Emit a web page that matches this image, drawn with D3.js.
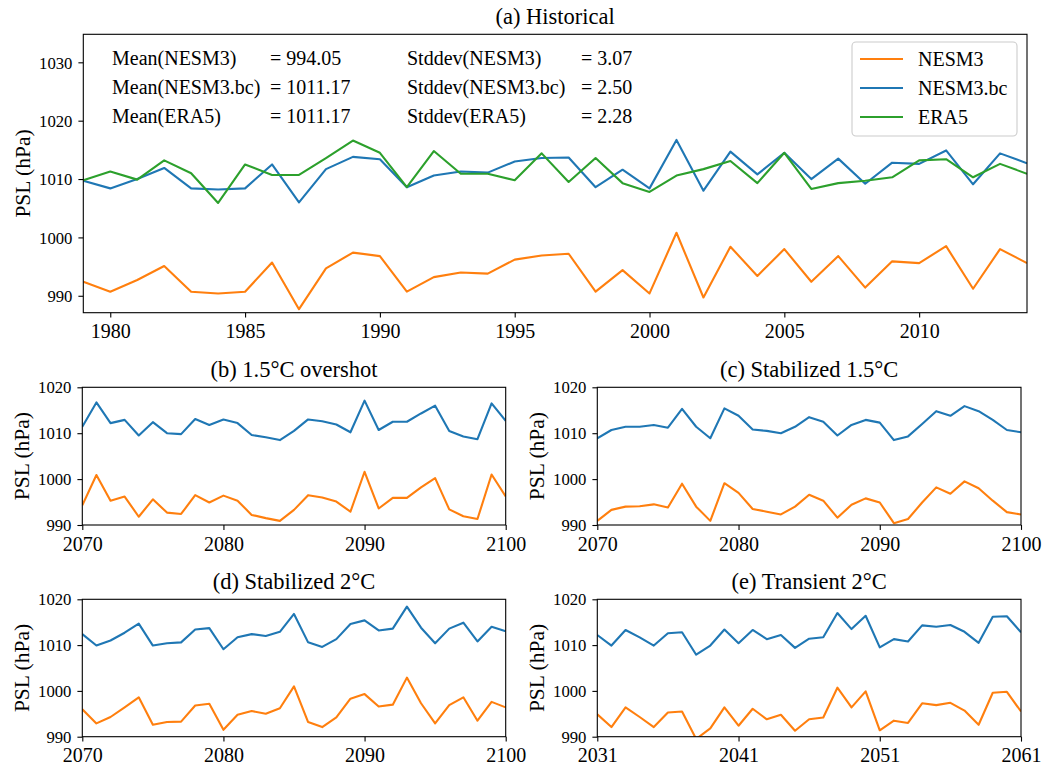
<!DOCTYPE html>
<html><head><meta charset="utf-8">
<script src="https://cdn.jsdelivr.net/npm/d3@7"></script>
<style>
body{margin:0;background:#fff}
svg{display:block}
svg text{font-family:"Liberation Serif","DejaVu Serif","Times New Roman",serif !important;fill:#000}
</style>
</head><body>
<svg id="chart" width="1059" height="767" font-family="Liberation Serif, DejaVu Serif, serif"></svg>
<script>
// ---------------- DATA ----------------
const histStart = 1979, histEnd = 2014;
const histNESM3 = [992.4,990.7,992.7,995.1,990.7,990.4,990.7,995.7,987.7,994.7,997.4,996.8,
  990.7,993.2,994.0,993.8,996.2,996.9,997.2,990.7,994.4,990.4,1000.8,989.7,
  998.4,993.4,998.0,992.4,996.8,991.4,995.9,995.6,998.5,991.2,998.0,995.6];
const histNESM3bc = [1009.7,1008.4,1010.0,1011.9,1008.4,1008.2,1008.4,1012.5,1006.0,1011.7,1013.8,1013.4,
  1008.6,1010.6,1011.3,1011.1,1013.0,1013.6,1013.7,1008.6,1011.6,1008.4,1016.7,1008.0,
  1014.7,1010.8,1014.5,1010.0,1013.5,1009.2,1012.8,1012.6,1014.9,1009.1,1014.4,1012.7];
const histERA5 = [1009.8,1011.3,1009.9,1013.2,1011.0,1005.9,1012.5,1010.7,1010.7,1013.6,1016.6,1014.5,
  1008.6,1014.8,1010.9,1010.9,1009.8,1014.4,1009.5,1013.6,1009.3,1007.8,1010.6,1011.7,
  1013.1,1009.3,1014.5,1008.3,1009.3,1009.7,1010.3,1013.2,1013.4,1010.3,1012.6,1010.9];
const histTicksX = [1980,1985,1990,1995,2000,2005,2010];
const histTicksY = [990,1000,1010,1020,1030];

// (b) 1.5°C overshot, 2070-2100
const overNESM3 = [994.3,1000.9,995.3,996.2,991.8,995.6,992.7,992.4,996.5,994.9,996.4,995.3,992.2,991.5,990.9,993.3,
  996.5,996.0,995.1,992.9,1001.6,993.6,995.9,995.9,998.2,1000.2,993.4,991.9,991.3,1001.0,996.2];
const overNESM3bc = [1011.4,1016.7,1012.2,1012.9,1009.5,1012.4,1010.0,1009.8,1013.1,1011.8,1013.0,1012.2,1009.6,1009.1,1008.5,1010.5,
  1013.0,1012.6,1011.9,1010.2,1017.1,1010.7,1012.5,1012.5,1014.3,1016.0,1010.5,1009.3,1008.7,1016.5,1012.7];
// (c) Stabilized 1.5°C, 2070-2100
const stab15NESM3 = [990.9,993.3,994.0,994.1,994.5,993.8,999.0,994.0,990.9,999.1,997.0,993.5,992.9,992.3,994.0,996.6,
  995.3,991.6,994.4,995.8,994.9,990.4,991.3,994.9,998.2,996.8,999.5,998.0,995.3,992.8,992.3];
const stab15NESM3bc = [1008.9,1010.7,1011.4,1011.4,1011.8,1011.2,1015.3,1011.4,1008.9,1015.4,1013.8,1010.8,1010.5,1010.0,1011.4,1013.5,
  1012.5,1009.5,1011.8,1012.9,1012.3,1008.5,1009.3,1012.0,1014.8,1013.8,1015.9,1014.8,1012.9,1010.7,1010.2];
// (d) Stabilized 2°C, 2070-2100
const stab2NESM3 = [996.0,992.9,994.3,996.4,998.6,992.6,993.2,993.3,996.8,997.2,991.5,994.8,995.6,995.0,996.2,1001.0,
  993.2,992.1,994.2,998.3,999.3,996.6,997.0,1002.9,997.3,992.9,996.9,998.6,993.5,997.6,996.4];
const stab2NESM3bc = [1012.4,1009.9,1011.0,1012.7,1014.7,1009.9,1010.4,1010.6,1013.4,1013.7,1009.1,1011.7,1012.4,1012.0,1012.9,1016.8,
  1010.6,1009.6,1011.3,1014.6,1015.4,1013.2,1013.6,1018.4,1013.8,1010.4,1013.6,1014.9,1010.8,1014.0,1013.0];
// (e) Transient 2°C, 2031-2061
const transNESM3 = [994.9,992.1,996.4,994.3,992.1,995.3,995.5,989.5,991.8,996.4,992.4,996.1,993.8,994.8,991.3,993.8,
  994.2,1000.7,996.4,999.9,991.4,993.5,993.0,997.3,996.9,997.4,995.7,992.6,999.6,999.8,995.5];
const transNESM3bc = [1012.2,1009.9,1013.3,1011.7,1009.9,1012.6,1012.8,1007.9,1009.9,1013.4,1010.4,1013.3,1011.3,1012.2,1009.4,1011.4,
  1011.7,1017.0,1013.5,1016.4,1009.5,1011.3,1010.8,1014.3,1014.0,1014.4,1012.9,1010.5,1016.2,1016.3,1012.8];

const futTicksY = [990,1000,1010,1020];
const ticks2070 = [2070,2080,2090,2100];
const ticks2031 = [2031,2041,2051,2061];

const seriesNames = ["NESM3","NESM3.bc","ERA5"];
const seriesColors = ["#ff7f0e","#1f77b4","#2ca02c"];
const statLabels = ["Mean(NESM3)","Mean(NESM3.bc)","Mean(ERA5)"];
const statValues = ["= 994.05","= 1011.17","= 1011.17"];
const sdLabels = ["Stddev(NESM3)","Stddev(NESM3.bc)","Stddev(ERA5)"];
const sdValues = ["= 3.07","= 2.50","= 2.28"];

// ---------------- LAYOUT ----------------
const FONT = '"Liberation Serif","DejaVu Serif",serif';
const FS = 20, FSY = 16.7, FST = 22.5, FSL = 21.5;
const svg = d3.select("#chart");
let clipId = 0;

function txt(sel) { return sel.style("font-family", FONT).attr("fill", "#000"); }

function panel(box, title, xDomain, xTicks, yDomain, yTicks, series) {
  const x = d3.scaleLinear().domain(xDomain).range([box.l, box.r]);
  const y = d3.scaleLinear().domain(yDomain).range([box.b, box.t]);
  const g = svg.append("g");
  const id = "clip" + (clipId++);
  svg.append("clipPath").attr("id", id).append("rect")
    .attr("x", box.l).attr("y", box.t).attr("width", box.r - box.l).attr("height", box.b - box.t);

  const lineG = g.append("g").attr("clip-path", `url(#${id})`);
  series.forEach(s => {
    const line = d3.line().x((d, i) => x(xDomain[0] + i)).y(d => y(d));
    lineG.append("path").datum(s.values).attr("d", line)
      .attr("fill", "none").attr("stroke", s.color).attr("stroke-width", 2.1)
      .attr("stroke-linejoin", "round").attr("stroke-linecap", "butt");
  });

  const xa = g.append("g").attr("transform", `translate(0,${box.b})`)
    .call(d3.axisBottom(x).tickValues(xTicks).tickFormat(d3.format("d")).tickSize(4.9).tickSizeOuter(0).tickPadding(6.7));
  xa.attr("font-family", null);
  xa.select(".domain").remove();
  xa.selectAll("line").attr("stroke", "#000").attr("stroke-width", 1.1);
  txt(xa.selectAll("text")).attr("font-size", FS);

  const ya = g.append("g").attr("transform", `translate(${box.l},0)`)
    .call(d3.axisLeft(y).tickValues(yTicks).tickFormat(d3.format("d")).tickSize(4.9).tickSizeOuter(0).tickPadding(6));
  ya.attr("font-family", null);
  ya.select(".domain").remove();
  ya.selectAll("line").attr("stroke", "#000").attr("stroke-width", 1.1);
  txt(ya.selectAll("text")).attr("font-size", FSY).attr("dy", "0.34em");

  g.append("rect").attr("x", box.l).attr("y", box.t)
    .attr("width", box.r - box.l).attr("height", box.b - box.t)
    .attr("fill", "none").attr("stroke", "#000").attr("stroke-width", 1.1);

  txt(g.append("text")).attr("x", (box.l + box.r) / 2).attr("y", box.t - 10)
    .attr("text-anchor", "middle").attr("font-size", FST).text(title);

  txt(g.append("text")).attr("transform", `translate(${box.l - 60.6},${(box.t + box.b) / 2}) rotate(-90)`)
    .attr("text-anchor", "middle").attr("dy", "0.35em").attr("font-size", FSL).text("PSL (hPa)");
  return {x, y, g};
}

// (a)
const pa = panel({l:83.3, r:1027, t:34.3, b:312.7}, "(a) Historical",
  [histStart, histEnd], histTicksX, [987.1, 1034.8], histTicksY,
  [{values: histNESM3, color: seriesColors[0]},
   {values: histNESM3bc, color: seriesColors[1]},
   {values: histERA5, color: seriesColors[2]}]);

// stats text
const rowY = [58.5, 87.5, 116];
statLabels.forEach((t, i) => {
  txt(pa.g.append("text")).attr("x", 112).attr("y", rowY[i]).attr("dy", "0.33em").attr("font-size", FS).text(t);
  txt(pa.g.append("text")).attr("x", 270).attr("y", rowY[i]).attr("dy", "0.33em").attr("font-size", FS).text(statValues[i]);
  txt(pa.g.append("text")).attr("x", 407).attr("y", rowY[i]).attr("dy", "0.33em").attr("font-size", FS).text(sdLabels[i]);
  txt(pa.g.append("text")).attr("x", 581).attr("y", rowY[i]).attr("dy", "0.33em").attr("font-size", FS).text(sdValues[i]);
});

// legend
const lg = pa.g.append("g");
lg.append("rect").attr("x", 852).attr("y", 42).attr("width", 165).attr("height", 94)
  .attr("rx", 4).attr("fill", "#fff").attr("fill-opacity", 0.8).attr("stroke", "#cccccc").attr("stroke-width", 1.1);
const legY = [59, 88, 117];
seriesNames.forEach((n, i) => {
  lg.append("line").attr("x1", 860).attr("x2", 903).attr("y1", legY[i]).attr("y2", legY[i])
    .attr("stroke", seriesColors[i]).attr("stroke-width", 2.1);
  txt(lg.append("text")).attr("x", 918).attr("y", legY[i]).attr("dy", "0.33em").attr("font-size", FS).text(n);
});

// (b)-(e)
const L1 = 82.3, R1 = 505.7, L2 = 597.3, R2 = 1021;
panel({l:L1, r:R1, t:387.3, b:525}, "(b) 1.5°C overshot", [2070, 2100], ticks2070, [990, 1020], futTicksY,
  [{values: overNESM3, color: seriesColors[0]}, {values: overNESM3bc, color: seriesColors[1]}]);
panel({l:L2, r:R2, t:387.3, b:525}, "(c) Stabilized 1.5°C", [2070, 2100], ticks2070, [990, 1020], futTicksY,
  [{values: stab15NESM3, color: seriesColors[0]}, {values: stab15NESM3bc, color: seriesColors[1]}]);
panel({l:L1, r:R1, t:599.3, b:736.7}, "(d) Stabilized 2°C", [2070, 2100], ticks2070, [990, 1020], futTicksY,
  [{values: stab2NESM3, color: seriesColors[0]}, {values: stab2NESM3bc, color: seriesColors[1]}]);
panel({l:L2, r:R2, t:599.3, b:736.7}, "(e) Transient 2°C", [2031, 2061], ticks2031, [990, 1020], futTicksY,
  [{values: transNESM3, color: seriesColors[0]}, {values: transNESM3bc, color: seriesColors[1]}]);
</script>
</body></html>
